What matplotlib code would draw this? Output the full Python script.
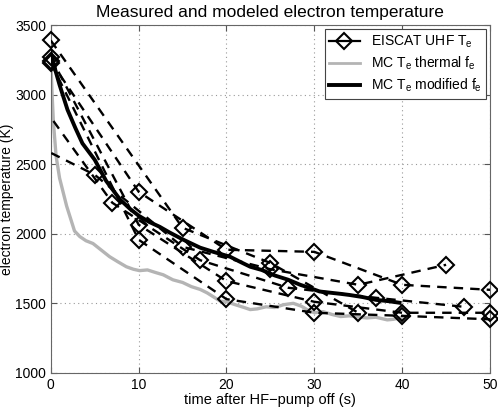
import numpy as np
import matplotlib.pyplot as plt
from matplotlib.lines import Line2D

plt.rcParams['font.family'] = ['Liberation Sans', 'DejaVu Sans']
plt.rcParams['mathtext.fontset'] = 'custom'
plt.rcParams['mathtext.rm'] = 'Liberation Sans'
plt.rcParams['mathtext.it'] = 'Liberation Sans'

# EISCAT UHF measured Te, one list pair per heating cycle
t_s1 = [0, 10, 20, 30, 40, 50]
te_s1 = [3240, 2302, 1885, 1870, 1633, 1597]
t_s2 = [0, 10, 20, 30, 40, 50]
te_s2 = [3270, 2065, 1660, 1511, 1432, 1432]
t_s3 = [0, 10, 20, 30, 40, 50]
te_s3 = [3230, 1957, 1530, 1432, 1410, 1385]
t_s4 = [-3, 7, 17, 27, 37, 47]
te_s4 = [3100, 2223, 1810, 1612, 1540, 1475]
t_s5 = [-5, 5, 15, 25, 35, 45]
te_s5 = [2740, 2424, 1906, 1745, 1633, 1777]
t_s6 = [0, 15, 25, 35]
te_s6 = [3390, 2043, 1790, 1432]

measured = [(t_s1, te_s1), (t_s2, te_s2), (t_s3, te_s3),
            (t_s4, te_s4), (t_s5, te_s5), (t_s6, te_s6)]

# Monte Carlo model, thermal distribution
t_thermal = [0, 0.15, 0.3, 0.6, 1.0, 1.4, 1.8, 2.3, 2.7, 3.3, 4.0, 4.8, 5.7,
             6.7, 7.6, 8.6, 9.4, 10.1, 11.0, 12.0, 12.8, 13.9, 15.0, 16.0,
             17.0, 17.8, 19.3, 20.0, 21.0, 22.0, 22.7, 23.5, 24.5, 25.5,
             26.5, 27.6, 28.5, 29.3, 30.0, 31.0, 32.0, 33.0, 34.0, 35.2,
             36.0, 37.0, 38.3, 39.0, 40.0]
te_thermal = [3250, 3000, 2800, 2560, 2400, 2300, 2200, 2100, 2020, 1980,
              1950, 1930, 1885, 1835, 1800, 1763, 1745, 1735, 1740, 1720,
              1705, 1669, 1650, 1620, 1600, 1575, 1515, 1511, 1490, 1470,
              1455, 1460, 1475, 1470, 1490, 1500, 1480, 1450, 1432, 1440,
              1420, 1405, 1410, 1400, 1395, 1400, 1381, 1385, 1400]

# Monte Carlo model, modified distribution
t_modified = [0, 0.5, 1.0, 1.9, 2.8, 3.6, 5.0, 6.3, 7.9, 9.0, 10.0, 11.2,
              12.4, 13.5, 15.0, 16.0, 17.0, 18.5, 20.4, 21.5, 22.7, 24.0,
              25.5, 27.0, 28.4, 29.5, 30.6, 32.0, 33.0, 34.0, 35.5, 37.0,
              38.5, 39.7]
te_modified = [3300, 3180, 3070, 2892, 2760, 2650, 2532, 2380, 2245, 2180,
               2130, 2085, 2050, 2010, 1960, 1930, 1900, 1870, 1835, 1800,
               1763, 1740, 1700, 1670, 1633, 1610, 1585, 1575, 1568, 1560,
               1545, 1525, 1515, 1504]

fig = plt.figure(figsize=(4.98, 4.12), dpi=100)
ax = fig.add_axes([0.102, 0.095, 0.882, 0.844])

ax.plot(t_thermal, te_thermal, color='#b4b4b4', lw=2.4, zorder=2)
ax.plot(t_modified, te_modified, color='black', lw=2.8, zorder=3)

for t, te in measured:
    ax.plot(t, te, color='black', lw=1.7, ls=(0, (4, 3)), zorder=4)
    tt = [a for a in t if a >= 0]
    ee = [b for a, b in zip(t, te) if a >= 0]
    ax.plot(tt, ee, ls='none', marker='D', ms=8.5, mfc='none', mec='black',
            mew=1.5, clip_on=False, zorder=5)

ax.set_xlim(0, 50)
ax.set_ylim(1000, 3500)
ax.set_xticks([0, 10, 20, 30, 40, 50])
ax.set_yticks([1000, 1500, 2000, 2500, 3000, 3500])
ax.tick_params(direction='in', top=True, right=True, labelsize=10,
               color='#555555', length=4)
for sp in ax.spines.values():
    sp.set_color('#666666')
ax.grid(True, ls=(0, (1, 3)), color='#999999', lw=0.8)
ax.set_axisbelow(True)

ax.set_title('Measured and modeled electron temperature', fontsize=12.5, pad=6)
ax.set_xlabel('time after HF\u2212pump off (s)', fontsize=10.5, labelpad=1)
ax.set_ylabel('electron temperature (K)', fontsize=10)
ax.yaxis.set_label_coords(-0.083, 0.5)

handles = [
    Line2D([], [], color='black', lw=1.6, marker='D', ms=8, mfc='none', mew=1.5),
    Line2D([], [], color='#b4b4b4', lw=2),
    Line2D([], [], color='black', lw=2.8),
]
labels = ['EISCAT UHF T$_{e}$', 'MC T$_{e}$ thermal f$_{e}$',
          'MC T$_{e}$ modified f$_{e}$']
leg = ax.legend(handles, labels, loc='upper right', fontsize=10,
                fancybox=False, framealpha=1, edgecolor='#444444',
                borderaxespad=0.3, handlelength=2.2, labelspacing=0.35,
                borderpad=0.3)
leg.get_frame().set_linewidth(0.8)

fig.savefig('out.png', dpi=100)
